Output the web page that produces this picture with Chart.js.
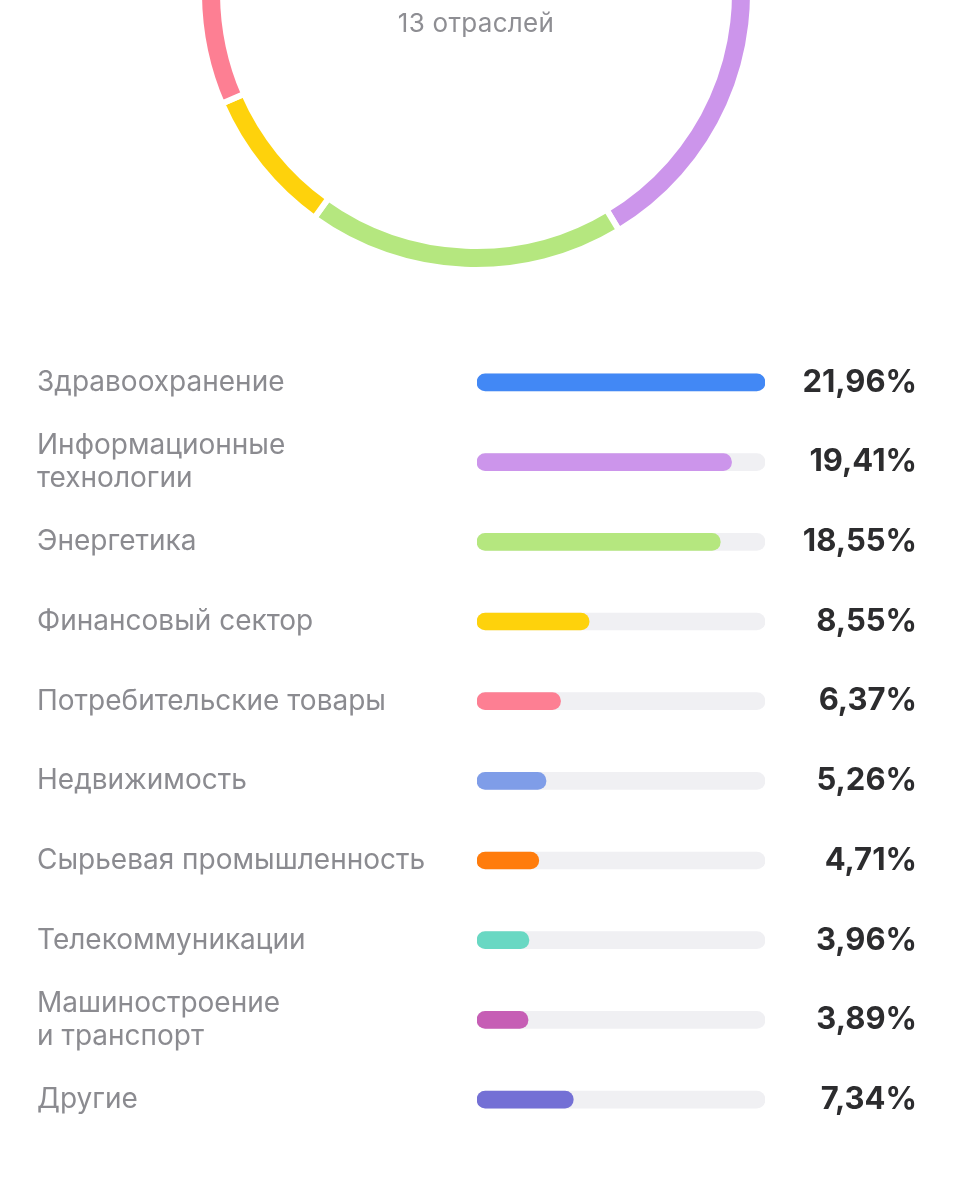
<!DOCTYPE html>
<html lang="ru">
<head>
<meta charset="utf-8">
<script src="https://cdn.jsdelivr.net/npm/chart.js@4/dist/chart.umd.min.js"></script>
<style>
  html, body { margin: 0; padding: 0; background: #ffffff; }
  body { width: 953px; height: 1200px; position: relative; overflow: hidden; font-family: Inter, "Noto Sans", sans-serif; }
  #ring { position: absolute; left: 196px; top: -287px; }
  #center { position: absolute; left: 276px; width: 400px; top: 7px; text-align: center; font-size: 26px; color: #8e8e93; font-family: Inter, "Noto Sans", sans-serif; letter-spacing: 0.3px; }
  #bars { position: absolute; left: 0; top: 321px; }
</style>
</head>
<body>
<canvas id="ring" width="560" height="560"></canvas>
<div id="center">13 отраслей</div>
<canvas id="bars" width="953" height="840"></canvas>
<script>
const categories = [
  ["Здравоохранение"],
  ["Информационные", "технологии"],
  ["Энергетика"],
  ["Финансовый сектор"],
  ["Потребительские товары"],
  ["Недвижимость"],
  ["Сырьевая промышленность"],
  ["Телекоммуникации"],
  ["Машиностроение", "и транспорт"],
  ["Другие"]
];
const shares = [21.96, 19.41, 18.55, 8.55, 6.37, 5.26, 4.71, 3.96, 3.89, 7.34];
const shareLabels = ["21,96%", "19,41%", "18,55%", "8,55%", "6,37%", "5,26%", "4,71%", "3,96%", "3,89%", "7,34%"];
const colors = ["#4288f5", "#cc95eb", "#b5e77f", "#fed20c", "#fd7f93", "#7f9de8", "#ff7c0c", "#69d8c3", "#c65eb5", "#7470d5"];
const trackColor = "#f0f0f3";

const maxShare = Math.max(...shares);
const trackValues = shares.map(() => maxShare);

new Chart(document.getElementById('ring'), {
  type: 'doughnut',
  data: {
    labels: categories.map(c => c.join(' ')),
    datasets: [{
      data: shares,
      backgroundColor: colors,
      borderColor: '#ffffff',
      borderWidth: 6,
      borderJoinStyle: 'miter',
      spacing: 0
    }]
  },
  options: {
    responsive: false,
    animation: false,
    devicePixelRatio: 1,
    cutout: 253,
    layout: { padding: 0 },
    plugins: { legend: { display: false }, tooltip: { enabled: false } }
  }
});

new Chart(document.getElementById('bars'), {
  type: 'bar',
  data: {
    labels: categories,
    datasets: [
      {
        data: shares,
        backgroundColor: colors,
        barThickness: 17,
        borderRadius: 9,
        borderSkipped: false,
        grouped: false,
        order: 0,
        yAxisID: 'y'
      },
      {
        data: trackValues,
        backgroundColor: trackColor,
        barThickness: 17,
        borderRadius: 9,
        borderSkipped: false,
        grouped: false,
        order: 1,
        yAxisID: 'y'
      }
    ]
  },
  options: {
    indexAxis: 'y',
    responsive: false,
    animation: false,
    devicePixelRatio: 1,
    layout: { padding: { left: 37, right: 36, top: 20, bottom: 20 } },
    scales: {
      x: { display: false, min: 0, max: maxShare },
      y: {
        type: 'category',
        position: 'left',
        offset: true,
        grid: { display: false },
        border: { display: false },
        ticks: {
          crossAlign: 'far',
          color: '#8b8b90',
          font: { family: 'Inter, "Noto Sans", sans-serif', size: 28, lineHeight: 1.2 }
        },
        afterFit: s => { s.width = 440; }
      },
      y2: {
        type: 'category',
        position: 'right',
        labels: shareLabels,
        offset: true,
        grid: { display: false },
        border: { display: false },
        ticks: {
          crossAlign: 'far',
          color: '#2c2c2e',
          font: { family: 'Inter, "Noto Sans", sans-serif', size: 31, weight: 'bold' }
        },
        afterFit: s => { s.width = 152; }
      }
    },
    plugins: { legend: { display: false }, tooltip: { enabled: false } }
  }
});
</script>
</body>
</html>
